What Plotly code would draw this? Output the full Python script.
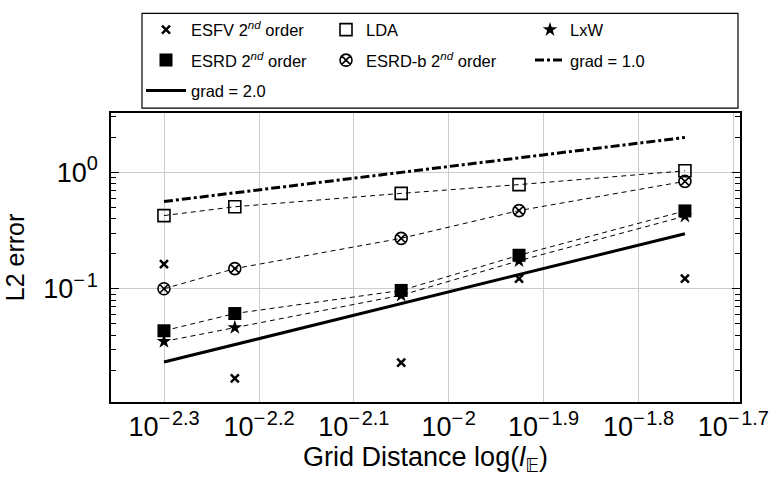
import plotly.graph_objects as go

# ---- data ----
grid_dist = [0.00501, 0.00595, 0.00891, 0.01186, 0.01774]
esfv = [0.163, 0.0170, 0.0232, 0.122, 0.122]
lda = [0.425, 0.506, 0.659, 0.784, 1.03]
esrd_b = [0.100, 0.149, 0.271, 0.469, 0.836]
esrd = [0.0436, 0.0613, 0.0968, 0.194, 0.466]
lxw = [0.0353, 0.0465, 0.088, 0.174, 0.42]
grad_x = [0.00501, 0.01774]
grad1 = [0.561, 1.99]
grad2 = [0.0235, 0.297]

x_tickvals = [10 ** -2.3, 10 ** -2.2, 10 ** -2.1, 10 ** -2.0, 10 ** -1.9, 10 ** -1.8, 10 ** -1.7]
x_exps = ["\u22122.3", "\u22122.2", "\u22122.1", "\u22122", "\u22121.9", "\u22121.8", "\u22121.7"]
y_tickvals = [0.1, 1]
y_exps = ["\u22121", "0"]
y_minor = [0.02, 0.03, 0.04, 0.05, 0.06, 0.07, 0.08, 0.09,
           0.2, 0.3, 0.4, 0.5, 0.6, 0.7, 0.8, 0.9, 2, 3]

def pow_label(e):
    e = e.replace("\u2212", "\u2212\u200a")
    return "10<sup><span style='font-size:20px'>" + e + "</span></sup>"

x_ticktext = [pow_label(e) for e in x_exps]
y_ticktext = [pow_label(e) for e in y_exps]

W, H = 773, 479
L, R, T, B = 111, 33, 106, 77
pw = W - L - R
ph = H - T - B

def px_x(p):  # pixel -> paper x
    return (p - L) / pw

def px_y(p):  # pixel -> paper y
    return (H - B - p) / ph

FONT = "Liberation Sans, Arial, sans-serif"
fig = go.Figure()

dash_line = dict(color="black", width=1, dash="5px,4px")
for ys, g in [(lda, "g2"), (esrd_b, "g5"), (esrd, "g4"), (lxw, "g3")]:
    fig.add_trace(go.Scatter(x=grid_dist, y=ys, mode="lines", line=dash_line,
                             showlegend=False, legendgroup=g, hoverinfo="skip"))

fig.add_trace(go.Scatter(x=grad_x, y=grad1, mode="lines", name="grad = 1.0",
                         line=dict(color="black", width=3, dash="dashdot"),
                         legend="legend3", legendgroup="g7", legendrank=2))
fig.add_trace(go.Scatter(x=grad_x, y=grad2, mode="lines", name="grad = 2.0",
                         line=dict(color="black", width=3),
                         legend="legend", legendgroup="g6", legendrank=3))

fig.add_trace(go.Scatter(x=grid_dist, y=esfv, mode="markers",
                         name="ESFV 2<sup><i>nd</i></sup> order",
                         marker=dict(symbol="x-thin-open", size=8, color="black",
                                     line=dict(width=2.5, color="black")),
                         legend="legend", legendgroup="g0", legendrank=1))
fig.add_trace(go.Scatter(x=grid_dist, y=esrd, mode="markers",
                         name="ESRD 2<sup><i>nd</i></sup> order",
                         marker=dict(symbol="square", size=13, color="black"),
                         legend="legend", legendgroup="g4", legendrank=2))
fig.add_trace(go.Scatter(x=grid_dist, y=lda, mode="markers", name="LDA",
                         marker=dict(symbol="square-open", size=12, color="black",
                                     line=dict(width=1.6, color="black")),
                         legend="legend2", legendgroup="g2", legendrank=1))
fig.add_trace(go.Scatter(x=grid_dist, y=esrd_b, mode="markers",
                         name="ESRD-b 2<sup><i>nd</i></sup> order",
                         marker=dict(symbol="circle-x-open", size=12, color="black",
                                     line=dict(width=1.6, color="black")),
                         legend="legend2", legendgroup="g5", legendrank=2))
fig.add_trace(go.Scatter(x=grid_dist, y=lxw, mode="markers", name="LxW",
                         marker=dict(symbol="star", size=11, color="black",
                                     line=dict(width=0)),
                         legend="legend3", legendgroup="g3", legendrank=1))

leg_common = dict(orientation="v", xanchor="left", yanchor="top",
                  bgcolor="rgba(0,0,0,0)", borderwidth=0,
                  font=dict(family=FONT, size=16.5, color="black"),
                  traceorder="grouped", tracegroupgap=6)

fig.update_layout(
    width=W, height=H,
    margin=dict(l=L, r=R, t=T, b=B),
    paper_bgcolor="white", plot_bgcolor="white",
    font=dict(family=FONT, color="black"),
    legend=dict(x=px_x(141), y=px_y(3), itemwidth=40, **leg_common),
    legend2=dict(x=px_x(326), y=px_y(3), itemwidth=30, **leg_common),
    legend3=dict(x=px_x(530), y=px_y(3), itemwidth=30, **leg_common),
    shapes=[dict(type="rect", xref="paper", yref="paper",
                 x0=px_x(142), x1=px_x(738), y0=px_y(101), y1=px_y(4),
                 line=dict(color="black", width=1.2), fillcolor="rgba(0,0,0,0)")],
)

fig.update_xaxes(
    type="log", range=[-2.356, -1.693],
    tickmode="array", tickvals=x_tickvals, ticktext=x_ticktext,
    tickfont=dict(size=27), ticks="", showgrid=True, gridcolor="#cccccc", gridwidth=1,
    showline=True, linecolor="black", linewidth=1.5, mirror=True, zeroline=False,
    title=dict(text="Grid Distance log(<i>l</i><sub><span style='font-family:DejaVu Sans'>\U0001D53C</span></sub>)",
               font=dict(size=27), standoff=0),
    automargin=False,
)
fig.update_yaxes(
    type="log", range=[-1.972, 0.509],
    tickmode="array", tickvals=y_tickvals, ticktext=y_ticktext,
    tickfont=dict(size=27), ticks="inside", ticklen=8, tickcolor="black",
    ticklabelstandoff=6,
    showgrid=True, gridcolor="#cccccc", gridwidth=1,
    minor=dict(tickmode="array", tickvals=y_minor, ticks="inside", ticklen=5,
               tickcolor="black", showgrid=False),
    showline=True, linecolor="black", linewidth=1.5, mirror="ticks", zeroline=False,
    title=dict(text="L2 error", font=dict(size=25), standoff=12),
    automargin=False,
)

fig.write_html("out.html", config={"displayModeBar": False},
               post_script="document.body.style.margin='0';")
